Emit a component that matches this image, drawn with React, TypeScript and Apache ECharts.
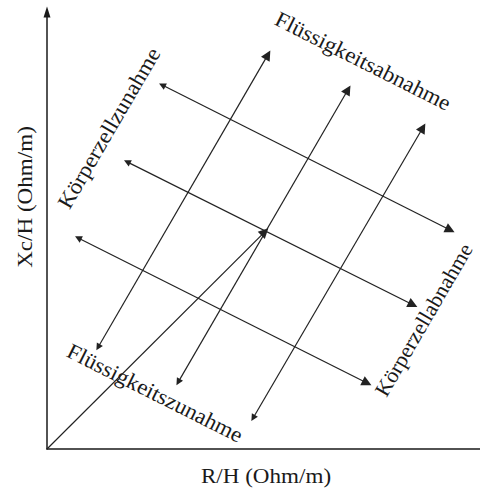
import React, { useEffect, useRef } from "react";
import * as echarts from "echarts";

// Axis labels
const xAxisLabel = "R/H (Ohm/m)";
const yAxisLabel = "Xc/H (Ohm/m)";

// Data-space endpoints (x, y) of the vector lines
const fluidLines: number[][][] = [
  [[1.18, 2.33], [5.1, 9.02]],
  [[3.03, 1.53], [6.95, 8.22]],
  [[4.76, 0.71], [8.68, 7.35]],
];
const cellLines: number[][][] = [
  [[2.66, 8.33], [9.31, 5.01]],
  [[1.85, 6.57], [8.45, 3.3]],
  [[0.72, 4.83], [7.39, 1.51]],
];
const diagonalLine: number[][] = [[0, 0], [5.03, 4.97]];

// Annotation texts
const labelFluidUp = "Flüssigkeitsabnahme";
const labelFluidDown = "Flüssigkeitszunahme";
const labelCellUp = "Körperzellzunahme";
const labelCellDown = "Körperzellabnahme";

const FONT = "'Liberation Serif', 'Times New Roman', serif";
const INK = "#1a1a1a";

export default function App() {
  const ref = useRef<HTMLDivElement>(null);
  useEffect(() => {
    if (!ref.current) return;
    document.body.style.margin = "0";
    const chart = echarts.init(ref.current, undefined, { renderer: "svg" });
    const lineStyle = { color: "#222222", width: 1.2, opacity: 1 };
    const textStyle = (t: string, size = 22) => ({
      text: t,
      fontFamily: FONT,
      fontSize: size,
      fill: INK,
      align: "center",
      verticalAlign: "middle",
    });
    const downRot = -Math.atan(0.502);
    const upRot = Math.atan(292 / 170);
    const sx = 1.05;
    chart.setOption({
      animation: false,
      backgroundColor: "#ffffff",
      grid: { left: 47, right: 0, top: 12, bottom: 40 },
      xAxis: {
        type: "value",
        min: 0,
        max: 10,
        axisLine: { show: true, lineStyle: { color: INK, width: 1.5 } },
        axisTick: { show: false },
        axisLabel: { show: false },
        splitLine: { show: false },
      },
      yAxis: {
        type: "value",
        min: 0,
        max: 10,
        axisLine: {
          show: true,
          symbol: ["none", "triangle"],
          symbolSize: [7, 11],
          symbolOffset: [0, 0],
          lineStyle: { color: INK, width: 1.5 },
        },
        axisTick: { show: false },
        axisLabel: { show: false },
        splitLine: { show: false },
      },
      series: [
        {
          type: "lines",
          coordinateSystem: "cartesian2d",
          symbol: ["triangle", "triangle"],
          symbolSize: [7, 10],
          lineStyle,
          data: [...fluidLines, ...cellLines].map((c) => ({ coords: c })),
          silent: true,
        },
        {
          type: "lines",
          coordinateSystem: "cartesian2d",
          symbol: ["none", "triangle"],
          symbolSize: [7, 10],
          lineStyle,
          data: [{ coords: diagonalLine }],
          silent: true,
        },
      ],
      graphic: [
        { type: "text", x: 266, y: 476, scaleX: sx, style: textStyle(xAxisLabel) },
        { type: "text", x: 25, y: 197, rotation: Math.PI / 2, scaleX: sx, style: textStyle(yAxisLabel) },
        { type: "text", x: 363, y: 61, rotation: downRot, scaleX: sx, style: textStyle(labelFluidUp) },
        { type: "text", x: 155, y: 393, rotation: downRot, scaleX: sx, style: textStyle(labelFluidDown) },
        { type: "text", x: 109, y: 128, rotation: upRot, scaleX: sx, style: textStyle(labelCellUp) },
        { type: "text", x: 424, y: 320, rotation: upRot, scaleX: 1.02, style: textStyle(labelCellDown, 21.5) },
      ],
    });
    return () => chart.dispose();
  }, []);
  return <div ref={ref} style={{ width: 480, height: 489 }} />;
}
